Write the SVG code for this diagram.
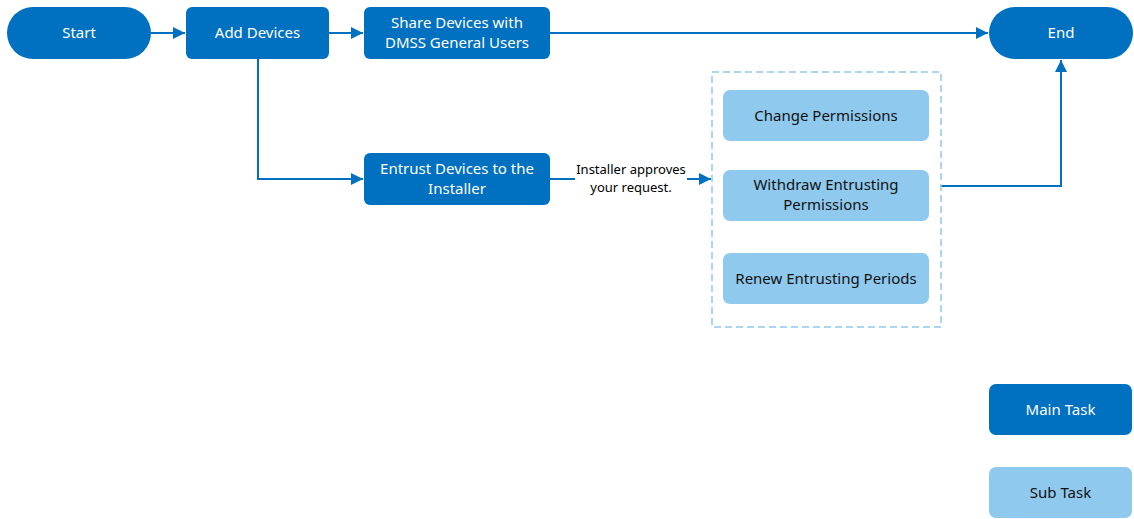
<svg xmlns="http://www.w3.org/2000/svg" width="1134" height="519" viewBox="0 0 1134 519">
<style>
.main{fill:#0070C0;}
.sub{fill:#8FC9EE;}
.t{font-family:"Noto Sans","Open Sans",sans-serif;font-size:15px;text-anchor:middle;}
.w{fill:#ffffff;}
.k{fill:#111111;}
.lbl{font-family:"Noto Sans","Open Sans",sans-serif;font-size:13px;text-anchor:middle;fill:#000;}
.c{fill:none;stroke:#0070C0;stroke-width:2;}
</style>
<defs>
<marker id="ah" viewBox="0 0 10 10" refX="10" refY="5" markerWidth="12" markerHeight="12" markerUnits="userSpaceOnUse" orient="auto">
<path d="M0,0 L10,5 L0,10 z" fill="#0070C0"/>
</marker>
</defs>
<rect x="0" y="0" width="1134" height="519" fill="#ffffff"/>
<g id="connectors">
<line class="c" x1="151" y1="33" x2="185" y2="33" marker-end="url(#ah)"/>
<line class="c" x1="329" y1="33" x2="363" y2="33" marker-end="url(#ah)"/>
<line class="c" x1="550" y1="33" x2="988" y2="33" marker-end="url(#ah)"/>
<polyline class="c" points="258,59 258,179 363,179" marker-end="url(#ah)"/>
<line class="c" x1="550" y1="179" x2="575" y2="179"/>
<line class="c" x1="687" y1="179" x2="711" y2="179" marker-end="url(#ah)"/>
<text class="lbl" x="631" y="174">Installer approves</text>
<text class="lbl" x="631" y="192">your request.</text>
<polyline class="c" points="941,186 1061,186 1061,60" marker-end="url(#ah)"/>
</g>
<g id="start"><rect class="main" x="7" y="7" width="144" height="52" rx="26"/><text class="t w" x="79" y="38">Start</text></g>
<g id="add-devices"><rect class="main" x="186" y="7" width="143" height="52" rx="6"/><text class="t w" x="257.5" y="38">Add Devices</text></g>
<g id="share"><rect class="main" x="364" y="7" width="186" height="52" rx="6"/><text class="t w" x="457" y="28">Share Devices with</text><text class="t w" x="457" y="48">DMSS General Users</text></g>
<g id="end"><rect class="main" x="989" y="7" width="144" height="52" rx="26"/><text class="t w" x="1061" y="38">End</text></g>
<g id="entrust"><rect class="main" x="364" y="153" width="186" height="52" rx="6"/><text class="t w" x="457" y="174">Entrust Devices to the</text><text class="t w" x="457" y="194">Installer</text></g>
<g id="group"><rect x="712" y="72" width="229" height="255" fill="none" stroke="#8FC9EE" stroke-width="1.5" stroke-dasharray="7,4"/></g>
<g id="change"><rect class="sub" x="723" y="90" width="206" height="51" rx="7"/><text class="t k" x="826" y="121">Change Permissions</text></g>
<g id="withdraw"><rect class="sub" x="723" y="170" width="206" height="51" rx="7"/><text class="t k" x="826" y="190">Withdraw Entrusting</text><text class="t k" x="826" y="210">Permissions</text></g>
<g id="renew"><rect class="sub" x="723" y="253" width="206" height="51" rx="7"/><text class="t k" x="826" y="284">Renew Entrusting Periods</text></g>
<g id="legend-main"><rect class="main" x="989" y="384" width="143" height="51" rx="7"/><text class="t w" x="1060.5" y="415">Main Task</text></g>
<g id="legend-sub"><rect class="sub" x="989" y="467" width="143" height="51" rx="7"/><text class="t k" x="1060.5" y="498">Sub Task</text></g>
</svg>
